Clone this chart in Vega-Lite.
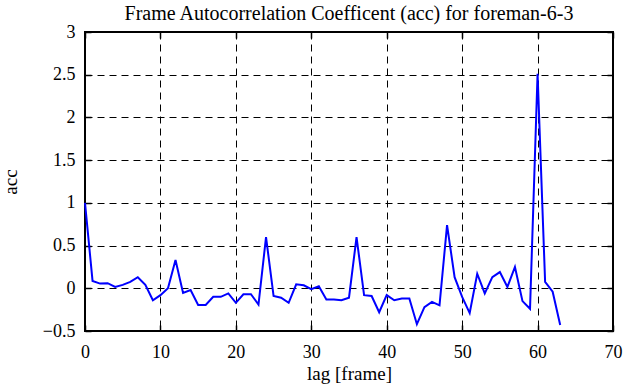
{
  "$schema": "https://vega.github.io/schema/vega-lite/v6.json",
  "autosize": "none",
  "width": 528,
  "height": 299,
  "padding": {"left": 85, "top": 32, "right": 17, "bottom": 56},
  "background": "white",
  "title": {"text": "Frame Autocorrelation Coefficent (acc) for foreman-6-3", "font": "Liberation Serif", "fontSize": 20, "fontWeight": "normal", "color": "black", "offset": -1},
  "config": {
    "font": "Liberation Serif",
    "style": {"guide-label": {"font": "Liberation Serif", "fill": "black"}, "guide-title": {"font": "Liberation Serif"}},
    "view": {"stroke": "black", "strokeWidth": 2},
    "axis": {"labelFont": "Liberation Serif", "titleFont": "Liberation Serif", "labelFontSize": 18, "titleFontSize": 19, "titleFontWeight": "normal", "labelColor": "black", "titleColor": "black", "domain": false, "tickColor": "black", "tickSize": -6, "tickWidth": 1.5, "gridColor": "black", "gridDash": [7, 5], "gridWidth": 1, "gridOpacity": 1}
  },
  "data": {"values": [
    {"lag": 0, "acc": 1.0}, {"lag": 1, "acc": 0.086}, {"lag": 2, "acc": 0.055}, {"lag": 3, "acc": 0.06},
    {"lag": 4, "acc": 0.016}, {"lag": 5, "acc": 0.04}, {"lag": 6, "acc": 0.074}, {"lag": 7, "acc": 0.13},
    {"lag": 8, "acc": 0.04}, {"lag": 9, "acc": -0.14}, {"lag": 10, "acc": -0.08}, {"lag": 11, "acc": 0.0},
    {"lag": 12, "acc": 0.33}, {"lag": 13, "acc": -0.055}, {"lag": 14, "acc": -0.02}, {"lag": 15, "acc": -0.195},
    {"lag": 16, "acc": -0.195}, {"lag": 17, "acc": -0.1}, {"lag": 18, "acc": -0.1}, {"lag": 19, "acc": -0.06},
    {"lag": 20, "acc": -0.17}, {"lag": 21, "acc": -0.07}, {"lag": 22, "acc": -0.07}, {"lag": 23, "acc": -0.19},
    {"lag": 24, "acc": 0.6}, {"lag": 25, "acc": -0.09}, {"lag": 26, "acc": -0.11}, {"lag": 27, "acc": -0.17},
    {"lag": 28, "acc": 0.047}, {"lag": 29, "acc": 0.035}, {"lag": 30, "acc": -0.01}, {"lag": 31, "acc": 0.023},
    {"lag": 32, "acc": -0.13}, {"lag": 33, "acc": -0.13}, {"lag": 34, "acc": -0.14}, {"lag": 35, "acc": -0.11},
    {"lag": 36, "acc": 0.6}, {"lag": 37, "acc": -0.08}, {"lag": 38, "acc": -0.09}, {"lag": 39, "acc": -0.28},
    {"lag": 40, "acc": -0.08}, {"lag": 41, "acc": -0.14}, {"lag": 42, "acc": -0.12}, {"lag": 43, "acc": -0.12},
    {"lag": 44, "acc": -0.42}, {"lag": 45, "acc": -0.22}, {"lag": 46, "acc": -0.16}, {"lag": 47, "acc": -0.2},
    {"lag": 48, "acc": 0.74}, {"lag": 49, "acc": 0.13}, {"lag": 50, "acc": -0.1}, {"lag": 51, "acc": -0.29},
    {"lag": 52, "acc": 0.17}, {"lag": 53, "acc": -0.06}, {"lag": 54, "acc": 0.13}, {"lag": 55, "acc": 0.19},
    {"lag": 56, "acc": 0.016}, {"lag": 57, "acc": 0.25}, {"lag": 58, "acc": -0.15}, {"lag": 59, "acc": -0.24},
    {"lag": 60, "acc": 2.51}, {"lag": 61, "acc": 0.074}, {"lag": 62, "acc": -0.04}, {"lag": 63, "acc": -0.43}
  ]},
  "layer": [
    {
      "mark": {"type": "line", "color": "#0000ff", "strokeWidth": 2},
      "encoding": {
        "x": {"field": "lag", "type": "quantitative", "scale": {"domain": [0, 70], "nice": false, "zero": false},
              "axis": {"title": "lag [frame]", "values": [0, 10, 20, 30, 40, 50, 60, 70], "grid": true, "labelFont": "Liberation Serif", "labelFontSize": 18, "labelPadding": 18, "titlePadding": 3, "labelFlush": false}},
        "y": {"field": "acc", "type": "quantitative", "scale": {"domain": [-0.5, 3], "nice": false, "zero": false},
              "axis": {"title": "acc", "values": [-0.5, 0, 0.5, 1, 1.5, 2, 2.5, 3], "grid": true, "labelFont": "Liberation Serif", "labelFontSize": 18, "labelPadding": 16, "titlePadding": 22, "labelFlush": false, "format": "~g"}}
      }
    },
    {
      "mark": {"type": "line", "opacity": 0},
      "encoding": {
        "x": {"field": "lag", "type": "quantitative", "scale": {"domain": [0, 70], "nice": false, "zero": false},
              "axis": {"orient": "top", "title": null, "labels": false, "values": [0, 10, 20, 30, 40, 50, 60, 70], "grid": false}},
        "y": {"field": "acc", "type": "quantitative", "scale": {"domain": [-0.5, 3], "nice": false, "zero": false},
              "axis": {"orient": "right", "title": null, "labels": false, "values": [-0.5, 0, 0.5, 1, 1.5, 2, 2.5, 3], "grid": false}}
      }
    }
  ],
  "resolve": {"axis": {"x": "independent", "y": "independent"}}
}
